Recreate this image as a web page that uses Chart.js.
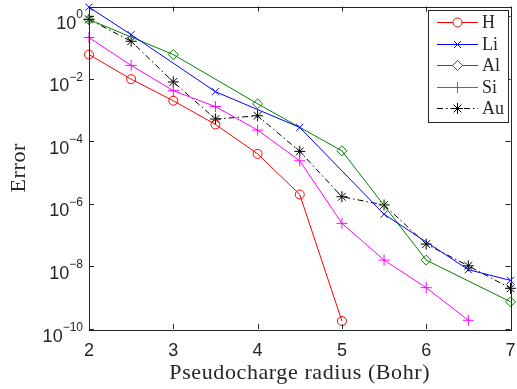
<!DOCTYPE html>
<html>
<head>
<meta charset="utf-8">
<script src="https://cdn.jsdelivr.net/npm/chart.js@4"></script>
<style>
  html, body { margin: 0; padding: 0; background: #fff; }
  #wrap { width: 517px; height: 389px; }
</style>
</head>
<body>
<div id="wrap"><canvas id="c"></canvas></div>
<script>
// pseudocharge radius (Bohr)
var radii = [2, 2.5, 3, 3.5, 4, 4.5, 5, 5.5, 6, 6.5, 7]

var errH  = [0.06, 9.8e-3, 2.0e-3, 3.5e-4, 4.0e-5, 2.0e-6, 1.8e-10]
var liX   = [2, 2.5, 3.5, 4.5, 5.5, 6.5, 7]
var errLi = [1.97, 0.26, 3.9e-3, 2.8e-4, 4.7e-7, 7.9e-9, 3.6e-9]
var alX   = [2, 3, 4, 5, 6, 7]
var errAl = [0.79, 0.06, 1.6e-3, 5.0e-5, 1.6e-8, 7.4e-10]
var errSi = [0.21, 0.027, 4.2e-3, 1.3e-3, 2.3e-4, 2.4e-5, 2.4e-7, 1.6e-8, 2.1e-9, 1.9e-10]
var errAu = [0.8, 0.16, 8.0e-3, 5.2e-4, 6.6e-4, 4.8e-5, 1.7e-6, 9.3e-7, 5.2e-8, 1.05e-8, 2.0e-9]

var labels = ['H', 'Li', 'Al', 'Si', 'Au']
var colors = ['#ff0000', '#0000ff', '#008000', '#ff00ff', '#000000']
var markers = ['circle', 'crossRot', 'rectRot', 'cross', 'star']
var markerSizes = [4.5, 5, 5, 5.5, 5.5]

var xTicks = [2, 3, 4, 5, 6, 7]
var yTickExps = [0, -2, -4, -6, -8, -10]

function pts(xs, ys) {
  return ys.map(function (y, i) { return { x: xs[i], y: y } })
}

var axisColor = '#262626'
var serif = '"Liberation Serif", "DejaVu Serif", serif'
var sans = '"Liberation Sans", Arial, sans-serif'
var auDash = [6, 3, 1.5, 3]

var series = [pts(radii, errH), pts(liX, errLi), pts(alX, errAl), pts(radii, errSi), pts(radii, errAu)]
var datasets = series.map(function (data, i) {
  return {
    label: labels[i],
    data: data,
    borderColor: colors[i],
    backgroundColor: 'rgba(0,0,0,0)',
    borderWidth: 1,
    borderDash: i === 4 ? auDash : [],
    pointStyle: markers[i],
    pointRadius: markerSizes[i],
    pointBorderColor: colors[i],
    pointBackgroundColor: 'rgba(0,0,0,0)',
    pointBorderWidth: 1,
    fill: false,
    tension: 0,
    clip: false
  }
})

// matlab-like axes: inward ticks, box, superscript tick labels, titles, legend
var axesPlugin = {
  id: 'axesPlugin',
  afterDraw: function (chart) {
    var ctx = chart.ctx
    var a = chart.chartArea
    var xs = chart.scales.x, ys = chart.scales.y
    ctx.save()
    ctx.strokeStyle = axisColor
    ctx.lineWidth = 1
    ctx.strokeRect(Math.round(a.left) + 0.5, Math.round(a.top) + 0.5, Math.round(a.right - a.left), Math.round(a.bottom - a.top))

    ctx.beginPath()
    xTicks.forEach(function (v) {
      var px = Math.round(xs.getPixelForValue(v)) + 0.5
      ctx.moveTo(px, a.bottom); ctx.lineTo(px, a.bottom - 5)
      ctx.moveTo(px, a.top); ctx.lineTo(px, a.top + 5)
    })
    yTickExps.forEach(function (e) {
      var py = Math.round(ys.getPixelForValue(Math.pow(10, e))) + 0.5
      ctx.moveTo(a.left, py); ctx.lineTo(a.left + 5, py)
      ctx.moveTo(a.right, py); ctx.lineTo(a.right - 5, py)
    })
    ctx.stroke()

    ctx.fillStyle = axisColor
    ctx.textAlign = 'center'
    ctx.textBaseline = 'alphabetic'
    ctx.font = '18px ' + sans
    xTicks.forEach(function (v) {
      ctx.fillText(String(v), xs.getPixelForValue(v), a.bottom + 27)
    })

    ctx.textAlign = 'left'
    yTickExps.forEach(function (e) {
      var py = ys.getPixelForValue(Math.pow(10, e))
      var exp = String(e).replace('-', '\u2212')
      ctx.font = '12px ' + sans
      var we = ctx.measureText(exp).width
      ctx.font = '18px ' + sans
      var wb = ctx.measureText('10').width
      var right = a.left - 6
      ctx.fillText('10', right - we - wb, py + 12.5)
      ctx.font = '12px ' + sans
      ctx.fillText(exp, right - we, py + 2)
    })

    ctx.font = '22px ' + serif
    ctx.letterSpacing = '0.6px'
    ctx.textAlign = 'center'
    ctx.fillText('Pseudocharge radius (Bohr)', (a.left + a.right) / 2, 379)
    ctx.save()
    ctx.translate(25, (a.top + a.bottom) / 2)
    ctx.rotate(-Math.PI / 2)
    ctx.fillText('Error', 0, 0)
    ctx.restore()
    ctx.letterSpacing = '0px'

    // legend
    var lx = 428, ly = 10, lw = 80, lh = 112
    ctx.fillStyle = '#fff'
    ctx.fillRect(lx, ly, lw, lh)
    ctx.strokeStyle = axisColor
    ctx.strokeRect(lx + 0.5, ly + 0.5, lw, lh)
    labels.forEach(function (lab, i) {
      var y = Math.round(ly + 12 + i * 21.6) + 0.5
      ctx.save()
      ctx.strokeStyle = colors[i]
      ctx.fillStyle = '#ffffff'
      ctx.lineWidth = 1
      ctx.setLineDash(i === 4 ? auDash : [])
      ctx.beginPath(); ctx.moveTo(437, y); ctx.lineTo(478, y); ctx.stroke()
      ctx.setLineDash([])
      Chart.helpers.drawPoint(ctx, { pointStyle: markers[i], radius: markerSizes[i], rotation: 0, borderWidth: 1 }, 457.5, y)
      ctx.restore()
      ctx.fillStyle = axisColor
      ctx.font = '18px ' + serif
      ctx.textAlign = 'left'
      ctx.textBaseline = 'middle'
      ctx.fillText(lab, 482, y + 1)
    })
    ctx.restore()
  }
}

new Chart(document.getElementById('c'), {
  type: 'line',
  data: { datasets: datasets },
  options: {
    responsive: true,
    maintainAspectRatio: false,
    animation: false,
    layout: { padding: { left: 89, top: 4, right: 4, bottom: 60 } },
    plugins: { legend: { display: false }, tooltip: { enabled: false }, colors: { enabled: false } },
    scales: {
      x: { type: 'linear', min: 2, max: 7, display: false },
      y: { type: 'logarithmic', min: 1e-10, max: 2.07, display: false }
    }
  },
  plugins: [axesPlugin]
})
</script>
</body>
</html>
